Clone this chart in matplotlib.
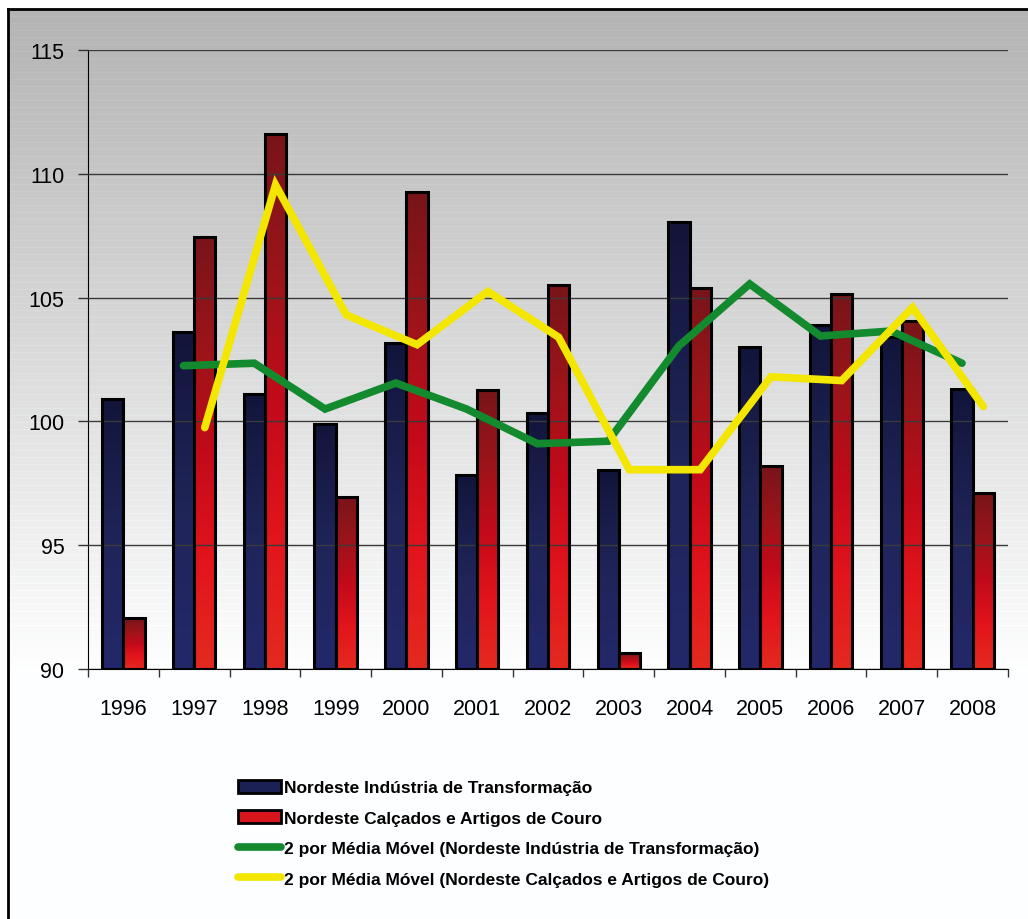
import numpy as np
import matplotlib
matplotlib.use('Agg')
import matplotlib.pyplot as plt
from matplotlib.colors import LinearSegmentedColormap
from matplotlib.patches import Patch
from matplotlib.lines import Line2D

years = ['1996', '1997', '1998', '1999', '2000', '2001', '2002',
         '2003', '2004', '2005', '2006', '2007', '2008']
industria = [100.9, 103.6, 101.1, 99.9, 103.15, 97.85, 100.35,
             98.05, 108.05, 103.0, 103.9, 103.4, 101.3]
calcados = [92.05, 107.45, 111.6, 96.95, 109.25, 101.25, 105.5,
            90.65, 105.4, 98.2, 105.15, 104.05, 97.1]
# 2-period moving averages (first year has none)
mm_industria = [102.25, 102.35, 100.5, 101.55, 100.5, 99.1,
                99.2, 103.05, 105.55, 103.45, 103.65, 102.35]
mm_calcados = [99.75, 109.55, 104.3, 103.1, 105.25, 103.4,
               98.05, 98.05, 101.8, 101.65, 104.6, 100.6]

lbl_ind = 'Nordeste Indústria de Transformação'
lbl_cal = 'Nordeste Calçados e Artigos de Couro'
lbl_mm_ind = '2 por Média Móvel (Nordeste Indústria de Transformação)'
lbl_mm_cal = '2 por Média Móvel (Nordeste Calçados e Artigos de Couro)'

plt.rcParams['font.family'] = ['Liberation Sans', 'DejaVu Sans']

fig = plt.figure(figsize=(10.28, 9.2), dpi=100)
fig.patch.set_facecolor('white')

# background gradient (gray top -> white bottom), faint brushed stripes
bg = fig.add_axes([8/1028, 0, 1 - 8/1028, 1 - 10/920], zorder=-10)
rows = 910
yy = np.arange(rows)
vals = 180 + (255 - 180) * np.clip(yy / 660.0, 0, 1)
vals = vals + np.where((yy % 7) == 0, 5, 0) * (yy < 620)
vals = np.clip(vals, 0, 255) / 255.0
img = np.repeat(vals[:, None], 2, axis=1)
img = np.dstack([img * 0.995, img * 0.997, img * 1.0])
img = np.clip(img, 0, 1)
bg.imshow(img, aspect='auto', extent=[0, 1, 0, 1], interpolation='nearest')
bg.set_axis_off()

# frame lines
fig.add_artist(Line2D([8/1028, 8/1028], [0, 1 - 10/920], color='black', lw=2, transform=fig.transFigure))
fig.add_artist(Line2D([8/1028, 1], [1 - 10/920, 1 - 10/920], color='black', lw=2, transform=fig.transFigure))

ax = fig.add_axes([88/1028, 1 - 670/920, 920/1028, (670 - 51)/920])
ax.patch.set_alpha(0)

blue_cmap = LinearSegmentedColormap.from_list('b', ['#23286a', '#1f2458', '#12153a'])
red_cmap = LinearSegmentedColormap.from_list('r', ['#e42a20', '#e2141c', '#c20a1a', '#9a1519', '#78141a'])

x = np.arange(len(years))
w = 0.3
ymin = 90
grad = np.linspace(0, 1, 256)[:, None]

for i in range(len(years)):
    xb = x[i] - w
    ax.imshow(grad, cmap=blue_cmap, aspect='auto', origin='lower',
              extent=[xb, xb + w, ymin, industria[i]], zorder=2)
    ax.imshow(grad, cmap=red_cmap, aspect='auto', origin='lower',
              extent=[x[i], x[i] + w, ymin, calcados[i]], zorder=2)

ax.bar(x - w/2, np.array(industria) - ymin, w, bottom=ymin, fill=False,
       edgecolor='black', linewidth=2.2, zorder=3)
ax.bar(x + w/2, np.array(calcados) - ymin, w, bottom=ymin, fill=False,
       edgecolor='black', linewidth=2.2, zorder=3)

ax.plot(x[1:] - w/2, mm_industria, color='#138a2e', lw=5.5,
        solid_capstyle='round', solid_joinstyle='miter', zorder=4)
ax.plot(x[1:] + w/2, mm_calcados, color='#f3e600', lw=5.5,
        solid_capstyle='round', solid_joinstyle='miter', zorder=5)

ax.set_xlim(-0.5, len(years) - 0.5)
ax.set_ylim(90, 115)
ax.set_yticks([90, 95, 100, 105, 110, 115])
ax.set_xticks(x)
ax.set_xticklabels(years)
ax.set_xticks(np.arange(-0.5, len(years)), minor=True)
ax.tick_params(axis='x', which='major', length=0, pad=21, labelsize=15.5)
ax.tick_params(axis='x', which='minor', length=6, width=1, color='#333333')
ax.tick_params(axis='y', length=7, width=1, pad=10, labelsize=15.5, color='#333333')
ax.yaxis.grid(True, color='#3a3a3a', lw=1)
ax.set_axisbelow(False)
for gl in ax.get_ygridlines():
    gl.set_zorder(1)
ax.spines['top'].set_visible(False)
ax.spines['right'].set_visible(False)
ax.spines['left'].set_color('black')
ax.spines['bottom'].set_color('black')

handles = [
    Patch(facecolor='#1c2155', edgecolor='black', linewidth=2),
    Patch(facecolor='#d8141c', edgecolor='black', linewidth=2),
    Line2D([], [], color='#138a2e', lw=5.5, solid_capstyle='round'),
    Line2D([], [], color='#f3e600', lw=5.5, solid_capstyle='round'),
]
leg = fig.legend(handles, [lbl_ind, lbl_cal, lbl_mm_ind, lbl_mm_cal],
                 loc='upper left', bbox_to_anchor=(222/1028, 1 - 765/920),
                 frameon=False, handlelength=2.5, handleheight=0.8,
                 handletextpad=0.2, labelspacing=0.85,
                 prop={'family': ['Liberation Sans', 'DejaVu Sans'],
                       'weight': 'bold', 'size': 12.5})

fig.savefig('out.png', dpi=100)
